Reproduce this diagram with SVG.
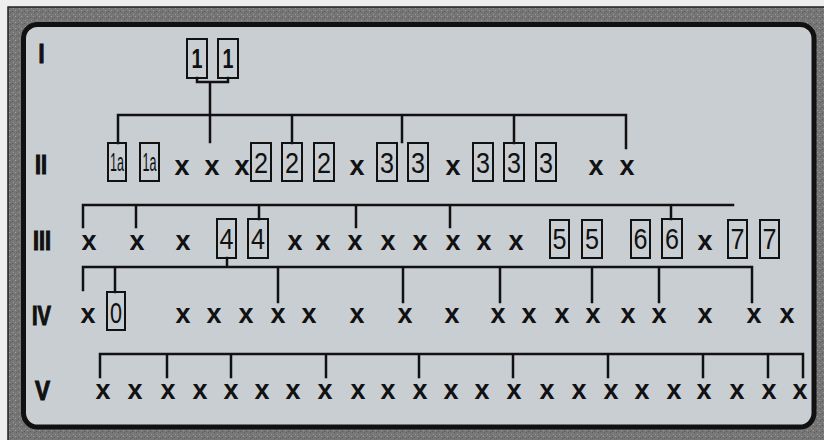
<svg xmlns="http://www.w3.org/2000/svg" width="824" height="440" viewBox="0 0 824 440">
<defs>
<pattern id="grain" width="6" height="6" patternUnits="userSpaceOnUse">
<rect width="6" height="6" fill="#767676"/>
<rect x="1" y="2" width="1" height="1" fill="#9a9a9a"/>
<rect x="4" y="0" width="1" height="1" fill="#5e5e5e"/>
<rect x="3" y="4" width="1" height="1" fill="#a0a0a0"/>
<rect x="0" y="5" width="1" height="1" fill="#5a5a5a"/>
</pattern>
</defs>
<style>
.ln{fill:none;stroke:#111;stroke-width:2.5;stroke-linecap:square}
.bx{fill:none;stroke:#111;stroke-width:2}
.x{font-family:"Liberation Sans",Arial,sans-serif;font-weight:bold;font-size:27px;fill:#111;text-anchor:middle}
.d{font-family:"Liberation Sans",Arial,sans-serif;font-size:30px;fill:#111;text-anchor:middle}
.one{font-family:"Liberation Sans",Arial,sans-serif;font-weight:bold;font-size:27px;fill:#111;text-anchor:middle}
.sm{font-family:"Liberation Sans",Arial,sans-serif;font-size:25px;fill:#111;text-anchor:middle}
.rn{font-family:"Liberation Sans",Arial,sans-serif;font-weight:bold;font-size:28px;fill:#111;stroke:#111;stroke-width:1.2}
</style>
<rect x="0" y="0" width="824" height="440" fill="#eeeeee"/>
<rect x="8" y="7" width="830" height="445" fill="url(#grain)" stroke="#222" stroke-width="1.5"/>
<rect x="23.5" y="24.5" width="790.5" height="402.5" rx="14" fill="#c9ced3" stroke="#111" stroke-width="5"/>

<g id="labels">
<text class="rn" x="38.5" y="63" textLength="6" lengthAdjust="spacingAndGlyphs">I</text>
<text class="rn" x="35" y="174" textLength="12" lengthAdjust="spacingAndGlyphs">II</text>
<text class="rn" x="33" y="250" textLength="18" lengthAdjust="spacingAndGlyphs">III</text>
<text class="rn" x="32" y="325" textLength="19" lengthAdjust="spacingAndGlyphs">IV</text>
<text class="rn" x="35" y="400" textLength="15" lengthAdjust="spacingAndGlyphs">V</text>
</g>

<g id="connectors">
<path class="ln" d="M197,78 V82 H228 V78 M210,82 V142"/>
<path class="ln" d="M118,143 V115 H626 V148 M292,115 V143 M402,115 V142 M514,115 V143"/>
<path class="ln" d="M83,227 V205 H733 M136,205 V227 M259,205 V219 M356,205 V227 M450,205 V227 M671,205 V219"/>
<path class="ln" d="M227,258 V267 M83,290 V267 H752 V302 M115,267 V292 M278,267 V302 M403,267 V302 M500,267 V302 M592,267 V302 M659,267 V302"/>
<path class="ln" d="M100,377 V354 H803 V377 M167,354 V377 M231,354 V377 M326,354 V377 M419,354 V377 M513,354 V377 M608,354 V377 M703,354 V377 M768,354 V377"/>
</g>

<g id="gen1">
<g id="n1a"><rect class="bx" x="187" y="39" width="20" height="39"/><text class="one" x="197" y="68" textLength="11" lengthAdjust="spacingAndGlyphs">1</text></g>
<g id="n1b"><rect class="bx" x="218" y="39" width="20" height="39"/><text class="one" x="228" y="68" textLength="11" lengthAdjust="spacingAndGlyphs">1</text></g>
</g>

<g id="gen2">
<g id="g2b1"><rect class="bx" x="108" y="143" width="18" height="38"/><text class="sm" x="117" y="171" textLength="14" lengthAdjust="spacingAndGlyphs">1a</text></g>
<g id="g2b2"><rect class="bx" x="140" y="143" width="19" height="38"/><text class="sm" x="149.5" y="171" textLength="14" lengthAdjust="spacingAndGlyphs">1a</text></g>
<g id="g2x"><text class="x" x="182" y="175">x</text><text class="x" x="212" y="175">x</text><text class="x" x="242" y="175">x</text><text class="x" x="357" y="175">x</text><text class="x" x="453" y="175">x</text><text class="x" x="596" y="175">x</text><text class="x" x="627" y="175">x</text></g>
<g id="g2b3"><rect class="bx" x="251" y="143" width="20" height="38"/><text class="d" x="261" y="173" textLength="14" lengthAdjust="spacingAndGlyphs">2</text></g>
<g id="g2b4"><rect class="bx" x="282" y="143" width="20" height="38"/><text class="d" x="292" y="173" textLength="14" lengthAdjust="spacingAndGlyphs">2</text></g>
<g id="g2b5"><rect class="bx" x="314" y="143" width="20" height="38"/><text class="d" x="324" y="173" textLength="14" lengthAdjust="spacingAndGlyphs">2</text></g>
<g id="g2b6"><rect class="bx" x="377" y="143" width="20" height="38"/><text class="d" x="387" y="173" textLength="14" lengthAdjust="spacingAndGlyphs">3</text></g>
<g id="g2b7"><rect class="bx" x="408" y="143" width="20" height="38"/><text class="d" x="418" y="173" textLength="14" lengthAdjust="spacingAndGlyphs">3</text></g>
<g id="g2b8"><rect class="bx" x="473" y="143" width="20" height="38"/><text class="d" x="483" y="173" textLength="14" lengthAdjust="spacingAndGlyphs">3</text></g>
<g id="g2b9"><rect class="bx" x="504" y="143" width="20" height="38"/><text class="d" x="514" y="173" textLength="14" lengthAdjust="spacingAndGlyphs">3</text></g>
<g id="g2b10"><rect class="bx" x="536" y="143" width="20" height="38"/><text class="d" x="546" y="173" textLength="14" lengthAdjust="spacingAndGlyphs">3</text></g>
</g>

<g id="gen3">
<g id="g3x"><text class="x" x="89" y="250">x</text><text class="x" x="137" y="250">x</text><text class="x" x="183" y="250">x</text><text class="x" x="295" y="250">x</text><text class="x" x="323" y="250">x</text><text class="x" x="355" y="250">x</text><text class="x" x="388" y="250">x</text><text class="x" x="420" y="250">x</text><text class="x" x="453" y="250">x</text><text class="x" x="484" y="250">x</text><text class="x" x="516" y="250">x</text><text class="x" x="705" y="250">x</text></g>
<g id="g3b1"><rect class="bx" x="217" y="219" width="19" height="39"/><text class="d" x="226.5" y="249" textLength="14" lengthAdjust="spacingAndGlyphs">4</text></g>
<g id="g3b2"><rect class="bx" x="248" y="219" width="20" height="39"/><text class="d" x="258" y="249" textLength="14" lengthAdjust="spacingAndGlyphs">4</text></g>
<g id="g3b3"><rect class="bx" x="550" y="220" width="19" height="38"/><text class="d" x="559.5" y="249" textLength="14" lengthAdjust="spacingAndGlyphs">5</text></g>
<g id="g3b4"><rect class="bx" x="582" y="220" width="20" height="38"/><text class="d" x="592" y="249" textLength="14" lengthAdjust="spacingAndGlyphs">5</text></g>
<g id="g3b5"><rect class="bx" x="631" y="220" width="19" height="38"/><text class="d" x="640.5" y="249" textLength="14" lengthAdjust="spacingAndGlyphs">6</text></g>
<g id="g3b6"><rect class="bx" x="662" y="219" width="20" height="39"/><text class="d" x="672" y="249" textLength="14" lengthAdjust="spacingAndGlyphs">6</text></g>
<g id="g3b7"><rect class="bx" x="728" y="220" width="19" height="38"/><text class="d" x="737.5" y="249" textLength="14" lengthAdjust="spacingAndGlyphs">7</text></g>
<g id="g3b8"><rect class="bx" x="760" y="220" width="19" height="38"/><text class="d" x="769.5" y="249" textLength="14" lengthAdjust="spacingAndGlyphs">7</text></g>
</g>

<g id="gen4">
<g id="g4b1"><rect class="bx" x="107" y="292" width="18" height="38"/><text class="d" x="116" y="323" textLength="12" lengthAdjust="spacingAndGlyphs">0</text></g>
<g id="g4x"><text class="x" x="88" y="323">x</text><text class="x" x="183" y="323">x</text><text class="x" x="214" y="323">x</text><text class="x" x="246" y="323">x</text><text class="x" x="278" y="323">x</text><text class="x" x="309" y="323">x</text><text class="x" x="357" y="323">x</text><text class="x" x="405" y="323">x</text><text class="x" x="452" y="323">x</text><text class="x" x="498" y="323">x</text><text class="x" x="529" y="323">x</text><text class="x" x="562" y="323">x</text><text class="x" x="593" y="323">x</text><text class="x" x="628" y="323">x</text><text class="x" x="659" y="323">x</text><text class="x" x="705" y="323">x</text><text class="x" x="754" y="323">x</text><text class="x" x="787" y="323">x</text></g>
</g>

<g id="gen5">
<g id="g5x"><text class="x" x="103" y="399">x</text><text class="x" x="135" y="399">x</text><text class="x" x="168" y="399">x</text><text class="x" x="200" y="399">x</text><text class="x" x="231" y="399">x</text><text class="x" x="262" y="399">x</text><text class="x" x="293" y="399">x</text><text class="x" x="325" y="399">x</text><text class="x" x="358" y="399">x</text><text class="x" x="388" y="399">x</text><text class="x" x="420" y="399">x</text><text class="x" x="451" y="399">x</text><text class="x" x="482" y="399">x</text><text class="x" x="514" y="399">x</text><text class="x" x="547" y="399">x</text><text class="x" x="579" y="399">x</text><text class="x" x="611" y="399">x</text><text class="x" x="642" y="399">x</text><text class="x" x="674" y="399">x</text><text class="x" x="704" y="399">x</text><text class="x" x="737" y="399">x</text><text class="x" x="769" y="399">x</text><text class="x" x="800" y="399">x</text></g>
</g>
</svg>
